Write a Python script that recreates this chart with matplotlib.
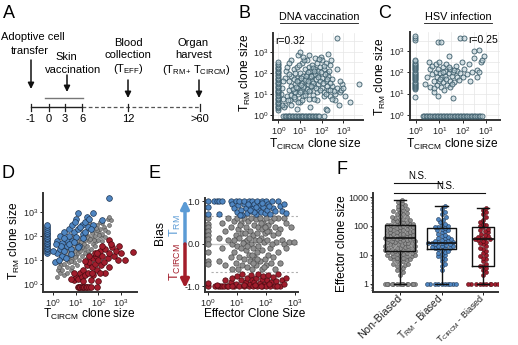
import numpy as np
import matplotlib
matplotlib.use("Agg")
import matplotlib.pyplot as plt
from matplotlib.ticker import NullFormatter, FixedLocator

W, H = 518, 345

plt.rcParams['font.family'] = ['Liberation Sans', 'DejaVu Sans']
plt.rcParams['mathtext.fontset'] = 'custom'
plt.rcParams['mathtext.rm'] = 'Liberation Sans'
plt.rcParams['mathtext.it'] = 'Liberation Sans:italic'
plt.rcParams['mathtext.bf'] = 'Liberation Sans:bold'

# ---------------- data ----------------
# A: timeline
tl_days = ["-1", "0", "3", "6", "12", ">60"]

# B: DNA vaccination (T_CIRCM size, T_RM size)
dna_pts = [(2, 3), (2.5, 8), (3, 15), (3, 40), (3.5, 5), (4, 25), (4, 70), (5, 12), (5, 150), (6, 6),
           (6, 30), (7, 60), (7, 200), (8, 10), (8, 20), (9, 45), (10, 100), (10, 4), (11, 15), (12, 300),
           (12, 35), (14, 8), (14, 70), (15, 25), (16, 150), (18, 12), (18, 50), (20, 400), (20, 90), (22, 30),
           (25, 6), (25, 200), (28, 60), (30, 15), (30, 120), (35, 40), (35, 250), (40, 9), (40, 80), (45, 25),
           (50, 150), (50, 500), (55, 50), (60, 12), (60, 300), (70, 90), (70, 30), (80, 200), (90, 600),
           (100, 60), (100, 20), (120, 150), (130, 8), (150, 40), (150, 300), (180, 100), (200, 15), (200, 800),
           (250, 250), (300, 50), (500, 4500), (500, 150), (2, 60), (2.2, 120), (1.5, 20), (1.6, 6), (1.8, 2.5),
           (2.5, 200), (3, 90), (4, 3), (5, 50), (6, 100), (7, 2), (9, 250), (12, 5), (15, 400), (20, 18),
           (25, 700), (30, 2.5), (40, 35), (50, 90), (60, 5), (80, 40), (100, 400), (120, 12), (150, 2),
           (200, 70), (250, 8), (300, 25), (400, 10), (500, 20), (700, 12), (900, 30), (1200, 8), (2000, 4),
           (5000, 30), (600, 3), (400, 5), (350, 14), (250, 35), (180, 25), (700, 40), (800, 15), (1000, 20),
           (300, 6), (4, 400), (3, 300), (8, 700), (10, 1000), (14, 600), (6, 12), (8, 4), (11, 55), (13, 22),
           (17, 9), (22, 110), (27, 14), (33, 70), (38, 180), (45, 6), (55, 20), (65, 130), (75, 450), (85, 16),
           (110, 35), (140, 90), (160, 10), (220, 120), (280, 400), (1.4, 3), (1.3, 10), (1.7, 40), (180, 1.7),
           (2.8, 5), (3.8, 9), (4.5, 18), (5.5, 7), (6.5, 22), (7.5, 40), (9.5, 13), (11, 28), (16, 45),
           (19, 70), (24, 40), (32, 25), (42, 120), (65, 65), (90, 110), (130, 220), (170, 50), (240, 16)]
dna_zero_rm_y = [1.8, 2.1, 2.4, 2.8, 3.2, 3.7, 4.3, 5, 5.8, 6.7, 7.8, 9, 10.5, 12, 14, 16, 19, 22, 25, 29,
                 34, 39, 45, 52, 60, 70, 81, 94, 110, 128, 150, 175, 200, 235, 280, 330]
dna_zero_circ_x = [1.7, 2, 2.3, 2.7, 3.1, 3.6, 4.2, 4.9, 5.7, 6.6, 7.7, 9, 10.5, 12, 14, 16.5, 19, 22, 26,
                   30, 35, 41, 48, 56, 65, 76, 125]

# C: HSV infection
hsv_pts = [(2.5, 30), (3, 60), (3.5, 300), (4, 150), (4, 20), (5, 80), (5, 200), (6, 40), (6, 12), (7, 100),
           (7, 250), (8, 60), (8, 25), (9, 150), (9, 8), (10, 40), (10, 300), (11, 90), (12, 20), (13, 60),
           (14, 180), (15, 35), (16, 15), (18, 70), (18, 120), (20, 50), (20, 250), (22, 25), (25, 90), (25, 600),
           (28, 40), (30, 150), (30, 20), (35, 70), (40, 100), (40, 6), (45, 35), (50, 200), (55, 60), (60, 120),
           (70, 45), (80, 90), (90, 300), (100, 60), (120, 150), (150, 80), (180, 250), (200, 40), (250, 100),
           (300, 1000), (400, 130), (500, 100), (500, 1100), (600, 300), (700, 400), (800, 600), (300, 500),
           (400, 60), (9, 2800), (12, 2600), (80, 4000), (120, 4200), (6, 18), (15, 110), (11, 50), (25, 180),
           (35, 30), (45, 130)]
hsv_zero_rm_y = [7, 16, 18, 20, 23, 26, 29, 33, 37, 42, 47, 53, 60, 68, 76, 86, 97, 110, 124, 140, 158,
                 178, 200, 225, 255, 290, 330, 380, 3200, 4000, 5000]
hsv_zero_circ_x = [2, 2.3, 2.7, 3.1, 3.6, 4.2, 4.9, 5.7, 6.6, 7.7, 9, 10.5, 12, 14, 16.5, 19, 22, 26, 30,
                   35, 41, 48, 56, 65, 76, 88, 100, 120, 140, 160, 190, 220, 260, 300, 350, 410, 480, 560, 650]

# D: classified clones
d_rm_pts = [(1.2, 8), (1.5, 20), (1.5, 60), (2, 30), (2, 100), (2.5, 15), (2.5, 50), (3, 150), (3, 25),
            (4, 70), (4, 40), (5, 200), (5, 100), (6, 30), (7, 300), (7, 60), (8, 150), (10, 90), (10, 500),
            (12, 200), (14, 40), (12, 900), (18, 300), (20, 120), (25, 400), (30, 600), (35, 250), (40, 500),
            (60, 900), (60, 300), (150, 470), (1.8, 10), (3.5, 12), (6, 18), (9, 400), (12, 35), (20, 80),
            (45, 200), (280, 4000), (2.2, 40), (3, 80), (5, 45), (8, 55), (16, 250), (1, 25), (1.3, 45), (25, 150)]
d_rm_zero_x_y = [20, 24, 28, 33, 39, 46, 54, 63, 74, 87, 100, 120, 140, 165, 195, 230, 280]
d_nb_pts = [(1.5, 2), (1.6, 4), (1.8, 8), (2, 3), (2.2, 6), (2.5, 12), (2.5, 4), (3, 7), (3, 2.5), (3.5, 15),
            (4, 5), (4, 10), (4.5, 25), (5, 8), (5, 15), (6, 35), (6, 4), (7, 12), (7, 20), (8, 8), (8, 50),
            (9, 25), (10, 15), (10, 35), (11, 6), (12, 60), (12, 20), (14, 10), (14, 40), (16, 80), (16, 25),
            (18, 15), (20, 50), (20, 120), (22, 30), (25, 20), (25, 70), (28, 150), (30, 40), (30, 12),
            (35, 100), (35, 25), (40, 60), (45, 200), (45, 30), (50, 80), (55, 45), (60, 150), (60, 250),
            (70, 100), (70, 40), (80, 60), (90, 300), (100, 150), (100, 70), (120, 200), (130, 100), (150, 350),
            (150, 120), (180, 250), (200, 180), (250, 500), (300, 300), (350, 450), (280, 600), (2.8, 20),
            (3.2, 35), (6, 9), (9, 14), (13, 30), (17, 55), (24, 45), (32, 90), (38, 18), (50, 130), (65, 70),
            (85, 180), (110, 110), (140, 60), (200, 90), (260, 150), (5, 60), (8, 100), (15, 200), (1.8, 5),
            (2.2, 15), (4, 3), (7, 5), (11, 45), (26, 110), (42, 75), (75, 220), (120, 400), (18, 35), (40, 400)]
d_circ_pts = [(8, 1.5), (10, 2), (12, 1.7), (15, 3), (18, 2), (20, 4), (25, 2.5), (30, 6), (35, 3), (40, 8),
              (50, 5), (60, 12), (60, 2.5), (70, 7), (80, 15), (90, 4), (100, 10), (120, 25), (130, 6),
              (150, 15), (180, 8), (200, 30), (250, 12), (300, 20), (300, 5), (400, 35), (500, 15), (600, 25),
              (800, 40), (1000, 20), (3200, 21), (1500, 10), (100, 1.3), (200, 3), (45, 1.5), (25, 9), (40, 15),
              (70, 20), (150, 40), (280, 68), (350, 45), (700, 10), (50, 3), (90, 20), (120, 3), (20, 1.3),
              (6, 1.6), (8, 3)]
d_circ_zero_y_x = [12, 14, 16, 18, 21, 24, 28, 32, 37, 45, 90]

# E: bias vs effector clone size
e_rm_pts = [(1, 1), (1, 0.87), (1, 0.7), (1.6, 1), (2, 1), (2.5, 1), (2.5, 0.7), (3, 1), (6, 1), (7, 0.95),
            (8, 0.85), (9, 1), (10, 0.75), (11, 0.92), (12, 1), (14, 0.8), (15, 0.68), (17, 0.95), (18, 1),
            (20, 0.85), (22, 0.72), (25, 1), (28, 0.9), (30, 0.78), (33, 1), (36, 0.85), (40, 0.95), (45, 0.7),
            (50, 1), (55, 0.82), (60, 0.92), (65, 0.75), (70, 1), (80, 0.88), (90, 0.72), (100, 1), (110, 0.8),
            (120, 0.93), (140, 0.7), (160, 1), (180, 0.85), (200, 0.77), (250, 1), (300, 0.9), (350, 0.78),
            (400, 0.95), (500, 0.72), (13, 0.67), (24, 0.95), (38, 0.74), (75, 0.97), (130, 0.9), (45, 0.88),
            (27, 0.8)]
e_nb_pts = [(3, 0.5), (3, -0.1), (4, 0.3), (4, -0.5), (5, 0.6), (5, 0.1), (6, -0.3), (6, 0.4), (7, -0.6),
            (7, 0.0), (8, 0.55), (8, -0.2), (9, 0.2), (9, -0.45), (10, 0.62), (10, -0.05), (11, 0.35),
            (11, -0.6), (12, 0.15), (12, -0.3), (14, 0.5), (14, -0.1), (15, 0.25), (15, -0.5), (17, 0.6),
            (17, 0.05), (18, -0.35), (20, 0.4), (20, -0.15), (22, 0.1), (22, -0.55), (24, 0.55), (25, -0.25),
            (27, 0.3), (28, -0.4), (30, 0.6), (30, 0.0), (33, -0.6), (35, 0.2), (35, -0.1), (38, 0.45),
            (40, -0.3), (42, 0.1), (45, 0.58), (45, -0.5), (50, 0.25), (50, -0.2), (55, 0.4), (55, -0.05),
            (60, 0.62), (60, -0.4), (65, 0.15), (70, -0.6), (70, 0.35), (75, -0.15), (80, 0.5), (85, 0.05),
            (90, -0.35), (95, 0.25), (100, 0.6), (100, -0.5), (110, 0.1), (120, -0.25), (120, 0.45), (130, 0.3),
            (140, -0.1), (150, 0.55), (150, -0.45), (170, 0.2), (180, -0.3), (200, 0.4), (200, -0.6), (220, 0.05),
            (250, 0.6), (250, -0.2), (300, 0.35), (300, -0.45), (350, 0.1), (400, 0.6), (400, 0.0), (500, 0.5),
            (500, -0.1), (600, 0.05), (700, 0.4), (900, 0.05), (2.5, 0.15), (2.5, -0.4), (16, 0.02), (26, 0.15),
            (32, -0.25), (48, -0.35), (65, 0.5), (85, -0.55), (110, 0.3), (160, 0.0), (190, 0.6), (260, 0.25),
            (8, 0.1), (13, 0.45), (19, 0.25), (23, -0.05), (36, -0.45), (58, 0.1), (90, 0.4),
            (1, 0.6), (1, 0.48), (1, 0.4), (1, 0.3), (1, 0.2), (1, 0.12), (1, 0.0), (1, -0.2), (1, -0.4),
            (1, -0.48)]
e_circ_pts = [(1, -1), (1, -0.92), (1.8, -1), (2.2, -1), (2.6, -1), (3, -1), (3.5, -1), (4, -0.85),
              (4.5, -1), (5, -0.98), (6, -0.9), (7, -0.8), (8, -1), (9, -0.95), (10, -0.75), (12, -1),
              (14, -0.85), (15, -0.7), (17, -1), (20, -0.9), (22, -0.8), (25, -1), (28, -0.95), (30, -0.72),
              (33, -0.85), (35, -1), (40, -0.9), (45, -0.8), (50, -1), (55, -0.7), (60, -0.92), (70, -0.82),
              (75, -1), (80, -0.75), (90, -0.95), (100, -1), (110, -0.85), (120, -0.72), (140, -1), (150, -0.9),
              (170, -0.78), (200, -1), (220, -0.88), (250, -0.7), (300, -1), (350, -0.85), (400, -0.95),
              (500, -0.8), (7, -1), (18, -0.97), (42, -0.97), (65, -1), (130, -0.95), (240, -0.98), (2, -0.97)]

# F: effector clone size per group
f_groups = ["Non-Biased", r"T$_{\mathrm{RM}}$ - Biased", r"T$_{\mathrm{CIRCM}}$ - Biased"]
f_nb = [1] * 14 + [2, 2.5, 3, 3, 3.5, 4, 4, 4.5, 5, 5, 5.5, 6, 6, 6.5, 7, 7, 7.5, 8, 8, 8, 9, 9, 9.5, 10,
                   10, 10, 11, 11, 12, 12, 12, 13, 13, 14, 14, 15, 15, 15, 16, 17, 17, 18, 18, 19, 20, 20, 20,
                   22, 22, 23, 24, 25, 25, 26, 27, 28, 30, 30, 31, 32, 33, 35, 35, 36, 38, 40, 40, 40, 42, 44,
                   45, 45, 48, 50, 50, 52, 55, 55, 58, 60, 60, 63, 65, 70, 70, 72, 75, 80, 80, 85, 90, 90, 95,
                   100, 100, 105, 110, 110, 115, 120, 120, 130, 135, 140, 150, 150, 160, 170, 180, 190, 200, 210,
                   230, 250, 260, 280, 300, 320, 350, 380, 400, 450, 500, 550, 600, 700, 800]
f_rm = [1] * 10 + [3, 4, 5, 6, 7, 8, 9, 10, 11, 12, 13, 14, 15, 16, 17, 17, 18, 19, 20, 20, 21, 22, 23, 24,
                   25, 25, 26, 27, 28, 29, 30, 32, 34, 36, 38, 40, 43, 46, 50, 55, 60, 65, 70, 75, 80, 85, 90,
                   95, 100, 110, 120, 140, 160, 180, 200, 250, 300, 400, 500]
f_circ = [1] * 10 + [2, 2.5, 3, 3.5, 4, 4, 5, 6, 7, 8, 9, 10, 12, 14, 16, 18, 20, 23, 25, 28, 30, 32, 35, 35,
                     38, 40, 42, 45, 50, 55, 60, 65, 70, 80, 90, 100, 110, 120, 140, 160, 200, 250, 300, 350, 420]
f_box_med = [39, 26, 36]
f_box_q1 = [14, 16, 4]
f_box_q3 = [107, 85, 93]
f_box_lo = [1, 1, 1]
f_box_hi = [790, 490, 420]

# ---------------- style ----------------
BLUE, BLUE_E = '#4f86c2', '#1d3552'
RED, RED_E = '#a11d2d', '#4a0a10'
GRAY, GRAY_E = '#8e8e8e', '#4d4d4d'
TEAL, TEAL_E = (0.72, 0.80, 0.83, 0.55), '#3b5c6a'
SPINE = '#333333'
TICK_FS = 6.5
LAB_FS = 8.3


def px_axes(fig, left, top, right, bottom):
    return fig.add_axes([left / W, 1 - bottom / H, (right - left) / W, (bottom - top) / H])


def style_spines(ax, ypad=1.5):
    ax.spines['top'].set_visible(False)
    ax.spines['right'].set_visible(False)
    for s in ('left', 'bottom'):
        ax.spines[s].set_color(SPINE)
        ax.spines[s].set_linewidth(1.4)
    ax.tick_params(labelsize=TICK_FS, length=2, width=0.7, pad=1.5, colors='#222222')
    ax.tick_params(axis='y', pad=ypad)
    ax.tick_params(which='minor', length=0)
    ax.set_facecolor('none')


def log_axes(ax, axis='both'):
    decades = [1, 10, 100, 1000]
    halves = [10 ** 0.5, 10 ** 1.5, 10 ** 2.5, 10 ** 3.5]
    if axis in ('x', 'both'):
        ax.set_xscale('log')
        ax.xaxis.set_major_locator(FixedLocator(decades))
        ax.xaxis.set_minor_locator(FixedLocator(halves))
        ax.xaxis.set_minor_formatter(NullFormatter())
    if axis in ('y', 'both'):
        ax.set_yscale('log')
        ax.yaxis.set_major_locator(FixedLocator(decades))
        ax.yaxis.set_minor_locator(FixedLocator(halves))
        ax.yaxis.set_minor_formatter(NullFormatter())


def swarm_offsets(vals, ppu_y, d, limit):
    # simple deterministic beeswarm in pixel space
    ys = np.log10(np.asarray(vals, float)) * ppu_y
    xs = np.zeros(len(ys))
    placed = []
    for i in np.argsort(ys, kind='stable'):
        y = ys[i]
        near = [(px, py) for px, py in placed if abs(py - y) < d]
        best, best_gap = 0.0, -1
        for k in range(0, 40):
            for off in ([0.0] if k == 0 else [k * d * 0.5, -k * d * 0.5]):
                if abs(off) > limit:
                    continue
                gap = min([np.hypot(off - px, y - py) for px, py in near] + [99])
                if gap >= d:
                    best, best_gap = off, gap
                    break
                if gap > best_gap:
                    best, best_gap = off, gap
            if best_gap >= d:
                break
        xs[i] = best
        placed.append((best, y))
    return xs


fig = plt.figure(figsize=(W / 100, H / 100), dpi=100)

rm_lab = r"T$_{\mathrm{RM}}$ clone size"
circ_lab = r"T$_{\mathrm{CIRCM}}$ clone size"

# ---------------- B and C ----------------
for box, pts, zy, zx, r_txt, r_right, lims in [
        ((273, 33, 363, 120), dna_pts, dna_zero_rm_y, dna_zero_circ_x, "r=0.32", False, (10 ** -0.25, 10 ** 3.9)),
        ((410, 32, 500, 120), hsv_pts, hsv_zero_rm_y, hsv_zero_circ_x, "r=0.25", True, (10 ** -0.25, 10 ** 3.6))]:
    ax = px_axes(fig, *box)
    p = np.array(pts, float)
    ax.scatter(p[:, 0], p[:, 1], s=13, facecolor=TEAL, edgecolor=TEAL_E, linewidth=0.6, zorder=3)
    ax.scatter(np.full(len(zy), 0.95), zy, s=13, facecolor=TEAL, edgecolor=TEAL_E, linewidth=0.6, zorder=3)
    ax.scatter(zx, np.full(len(zx), 0.85), s=13, facecolor=TEAL, edgecolor=TEAL_E, linewidth=0.6, zorder=3)
    log_axes(ax)
    ax.set_xlim(*lims)
    ax.set_ylim(10 ** -0.24, 10 ** 3.9)
    ax.grid(True, which='both', color='#e6e6e6', linewidth=0.5)
    ax.set_axisbelow(True)
    style_spines(ax, ypad=2.0 if r_right else 1.5)
    ax.set_xlabel(circ_lab, fontsize=LAB_FS + 0.3)
    ax.set_ylabel(rm_lab, fontsize=LAB_FS + 0.3)
    if r_right:
        ax.text(0.98, 0.97, r_txt, transform=ax.transAxes, ha='right', va='top', fontsize=7.5)
        ax.xaxis.set_label_coords(0.47, -0.19)
        ax.yaxis.set_label_coords(-0.245, 0.49)
    else:
        ax.text(0.03, 0.97, r_txt, transform=ax.transAxes, ha='left', va='top', fontsize=7.5)
        ax.xaxis.set_label_coords(0.47, -0.19)
        ax.yaxis.set_label_coords(-0.22, 0.54)

# ---------------- D ----------------
axd = px_axes(fig, 43, 193, 137, 292)
nb = np.array(d_nb_pts, float)
rm = np.array(d_rm_pts, float)
ci = np.array(d_circ_pts, float)
axd.scatter(nb[:, 0], nb[:, 1], s=8, facecolor=GRAY, edgecolor=GRAY_E, linewidth=0.4, zorder=3)
axd.scatter(rm[:, 0], rm[:, 1], s=17, facecolor=BLUE, edgecolor=BLUE_E, linewidth=0.5, zorder=3)
axd.scatter(np.full(len(d_rm_zero_x_y), 0.55), d_rm_zero_x_y, s=17, facecolor=BLUE, edgecolor=BLUE_E,
            linewidth=0.5, zorder=3)
axd.scatter(ci[:, 0], ci[:, 1], s=17, facecolor=RED, edgecolor=RED_E, linewidth=0.5, zorder=3)
axd.scatter(d_circ_zero_y_x, np.full(len(d_circ_zero_y_x), 0.75), s=17, facecolor=RED, edgecolor=RED_E,
            linewidth=0.5, zorder=3)
log_axes(axd)
axd.set_xlim(10 ** -0.45, 10 ** 3.7)
axd.set_ylim(10 ** -0.33, 10 ** 3.8)
style_spines(axd)
axd.set_xlabel(circ_lab, fontsize=LAB_FS + 0.3)
axd.set_ylabel(rm_lab, fontsize=LAB_FS + 0.3)
axd.xaxis.set_label_coords(0.49, -0.155)
axd.yaxis.set_label_coords(-0.225, 0.52)

# ---------------- E ----------------
axe = px_axes(fig, 205, 198, 298, 292)
en = np.array(e_nb_pts, float)
er = np.array(e_rm_pts, float)
ec = np.array(e_circ_pts, float)
axe.axhline(0, color='#c8c8c8', linewidth=1.0, zorder=1)
axe.axhline(0.65, xmin=0.06, color='#b0b0b0', linewidth=0.8, linestyle=(0, (2, 2)), zorder=1)
axe.axhline(-0.65, xmin=0.06, color='#b0b0b0', linewidth=0.8, linestyle=(0, (2, 2)), zorder=1)
axe.scatter(en[:, 0], en[:, 1], s=15, facecolor=GRAY, edgecolor=GRAY_E, linewidth=0.5, zorder=3)
axe.scatter(er[:, 0], er[:, 1], s=15, facecolor=BLUE, edgecolor=BLUE_E, linewidth=0.5, zorder=3)
axe.scatter(ec[:, 0], ec[:, 1], s=15, facecolor=RED, edgecolor=RED_E, linewidth=0.5, zorder=3)
log_axes(axe, 'x')
axe.set_xlim(10 ** -0.1, 10 ** 3.1)
axe.set_ylim(-1.13, 1.08)
axe.set_yticks([-1, 0, 1])
axe.set_yticklabels(['-1.0', '0.0', '1.0'])
style_spines(axe)
axe.set_xlabel("Effector Clone Size", fontsize=8.6)
axe.xaxis.set_label_coords(0.53, -0.17)
axe.set_ylabel("Bias", fontsize=8.8)
axe.yaxis.set_label_coords(-0.42, 0.63)

# ---------------- F ----------------
axf = px_axes(fig, 373, 193, 498, 292)
f_vals = [f_nb, f_rm, f_circ]
f_cols = [(GRAY, GRAY_E), (BLUE, BLUE_E), (RED, RED_E)]
ppu_x, ppu_y = 41.5, 29.0
for i, (vals, (fc, ec_)) in enumerate(zip(f_vals, f_cols)):
    off = swarm_offsets(vals, ppu_y, 3.3, 16) / ppu_x
    axf.scatter(i + off, vals, s=8, facecolor=fc, edgecolor=ec_, linewidth=0.4, zorder=2)
stats = [dict(med=f_box_med[i], q1=f_box_q1[i], q3=f_box_q3[i], whislo=f_box_lo[i], whishi=f_box_hi[i])
         for i in range(3)]
lp = dict(color='#111111', linewidth=1.0)
axf.bxp(stats, positions=[0, 1, 2], widths=[0.72, 0.68, 0.55], capwidths=[0.3, 0.3, 0.3],
        showfliers=False, boxprops=lp, whiskerprops=lp, capprops=lp,
        medianprops=dict(color='#111111', linewidth=1.2), zorder=4)
axf.set_yscale('log')
axf.set_ylim(10 ** -0.28, 10 ** 3.14)
axf.set_xlim(-0.65, 2.36)
axf.set_yticks([1, 10, 100, 1000])
axf.set_yticklabels(['1', '10', '100', '1000'])
axf.yaxis.set_minor_formatter(NullFormatter())
style_spines(axf)
axf.tick_params(axis='y', which='minor', length=1.5, width=0.5)
axf.tick_params(axis='x', pad=1.5)
axf.set_xticks([0, 1, 2])
axf.set_xticklabels(f_groups, rotation=45, ha='right', va='center', rotation_mode='anchor')
for lbl, fs in zip(axf.get_xticklabels(), [7.8, 7.2, 6.5]):
    lbl.set_fontsize(fs)
axf.set_ylabel("Effector clone size", fontsize=8.6)
axf.yaxis.set_label_coords(-0.2, 0.49)
# significance bars
for x0, x1, yb, ns_x in [(-0.15, 1.0, 3000, 0.42), (-0.15, 2.05, 1380, 1.1)]:
    axf.plot([x0, x1], [yb, yb], color='#111111', linewidth=0.8, clip_on=False)
    axf.text(ns_x, yb * 1.15, "N.S.", ha='center', va='bottom', fontsize=7)

# ---------------- overlay: panel A, letters, annotations ----------------
ov = fig.add_axes([0, 0, 1, 1], zorder=10)
ov.set_xlim(0, W)
ov.set_ylim(H, 0)
ov.axis('off')

for lab, x, y in [("A", 9, 13), ("B", 244, 14), ("C", 385, 14), ("D", 8, 174), ("E", 155, 174), ("F", 342, 170)]:
    ov.text(x, y, lab, fontsize=13, ha='center', va='center')

# timeline (schematic positions)
tl_x = [31, 49, 65, 82, 128, 200]
tl_y = 107
ov.plot(tl_x[:4], [tl_y] * 4, color='#222222', linewidth=1.0)
ov.plot([tl_x[3], tl_x[5]], [tl_y, tl_y], color='#555555', linewidth=0.9, linestyle=(0, (3, 2)))
for x, lab in zip(tl_x, tl_days):
    ov.plot([x, x], [104, 111], color='#222222', linewidth=0.9)
    ov.text(x, 119, lab, ha='center', va='center', fontsize=8)
ov.plot([45, 83], [98, 98], color='#777777', linewidth=1.0)


def down_arrow(x, y0, y1):
    ov.annotate('', xy=(x, y1), xytext=(x, y0),
                arrowprops=dict(arrowstyle='-|>', color='#111111', lw=1.1, mutation_scale=9,
                                shrinkA=0, shrinkB=0))


down_arrow(31, 60, 89)
down_arrow(67, 75, 92)
down_arrow(128, 80, 98)
down_arrow(199, 80, 98)
ov.text(33, 37, "Adoptive cell", ha='center', va='center', fontsize=8)
ov.text(30, 51, "transfer", ha='center', va='center', fontsize=8)
ov.text(66, 57, "Skin", ha='center', va='center', fontsize=8)
ov.text(73, 70, "vaccination", ha='center', va='center', fontsize=8)
ov.text(128, 43, "Blood", ha='center', va='center', fontsize=8)
ov.text(128, 55, "collection", ha='center', va='center', fontsize=8)
ov.text(128, 69, r"(T$_{\mathrm{EFF}}$)", ha='center', va='center', fontsize=8)
ov.text(193, 43, "Organ", ha='center', va='center', fontsize=8)
ov.text(194, 55, "harvest", ha='center', va='center', fontsize=8)
ov.text(196, 70, r"(T$_{\mathrm{RM}}$$_{+}$ T$_{\mathrm{CIRCM}}$)", ha='center', va='center', fontsize=8)

# titles with underline
ov.text(319, 17, "DNA vaccination", ha='center', va='center', fontsize=7.8)
ov.plot([280, 358], [23, 23], color='#111111', linewidth=0.6)
ov.text(458, 17, "HSV infection", ha='center', va='center', fontsize=7.8)
ov.plot([424, 492], [23, 23], color='#111111', linewidth=0.6)

# E bias arrows
ov.annotate('', xy=(185, 200), xytext=(185, 244),
            arrowprops=dict(arrowstyle='-|>', color='#5b9bd5', lw=2.5, mutation_scale=12, shrinkA=0, shrinkB=0))
ov.annotate('', xy=(185, 288), xytext=(185, 244),
            arrowprops=dict(arrowstyle='-|>', color='#a31d2a', lw=2.5, mutation_scale=12, shrinkA=0, shrinkB=0))
ov.text(175, 226, r"T$_{\mathrm{RM}}$", rotation=90, ha='center', va='center', fontsize=9, color='#5b9bd5')
ov.text(175, 262, r"T$_{\mathrm{CIRCM}}$", rotation=90, ha='center', va='center', fontsize=9, color='#a31d2a')

fig.savefig("out.png", dpi=100)
